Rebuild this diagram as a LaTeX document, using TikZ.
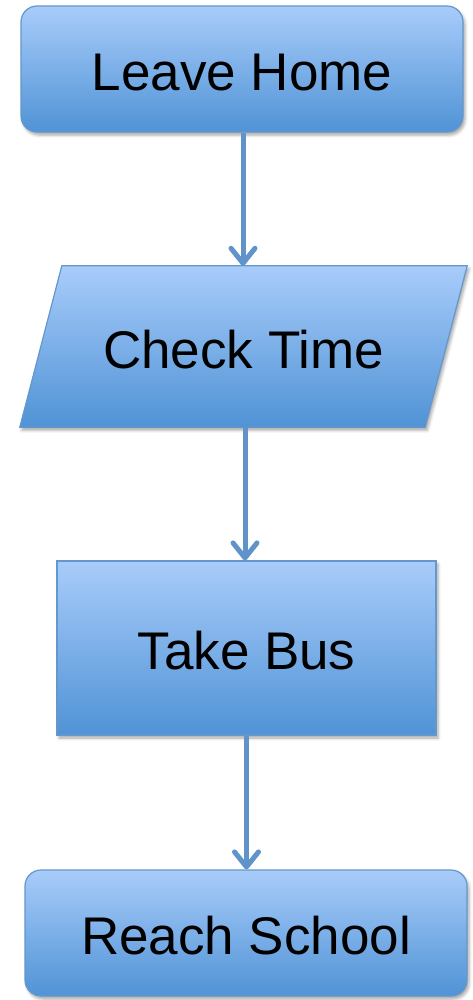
\documentclass[tikz,border=0pt]{standalone}
\usepackage{fontspec}
\setmainfont{Liberation Sans}
\usetikzlibrary{arrows.meta,shadows.blur,backgrounds}
\definecolor{fillTop}{HTML}{A8CCFA}
\definecolor{fillBot}{HTML}{5093D6}
\definecolor{edgeBlue}{HTML}{6497CB}
\definecolor{arrowBlue}{HTML}{5F93CA}
\tikzset{
  boxlook/.style={draw=edgeBlue, line width=1.2pt, top color=fillTop, bottom color=fillBot,
    blur shadow={shadow xshift=2pt, shadow yshift=-3pt, shadow blur radius=3pt, shadow opacity=35}},
  boxtext/.style={font=\fontsize{53}{60}\selectfont, text=black, inner sep=0pt,
    text height=43pt, text depth=0pt},
  roundbox/.style={boxlook, boxtext, rectangle, rounded corners=16pt},
  squarebox/.style={boxlook, boxtext, rectangle},
  flowarrow/.style={draw=arrowBlue, line width=5pt,
    -{Straight Barb[length=15pt, width=24pt, round]}}
}
\begin{document}
\begin{tikzpicture}[x=1pt, y=-1pt]
  \useasboundingbox (0,0) rectangle (472,1000);

  \node[roundbox, minimum width=442pt, minimum height=126pt] (home) at (242,69) {Leave Home};
  \node[boxtext, minimum width=447pt, minimum height=161pt] (time) at (243.5,346.5) {Check Time};
  \node[squarebox, minimum width=379pt, minimum height=174pt] (bus) at (246.5,648) {Take Bus};
  \node[roundbox, minimum width=442pt, minimum height=126pt] (school) at (246,933) {Reach School};

  % slanted input/output box behind the "Check Time" text
  \begin{scope}[on background layer]
    \path[boxlook] ([xshift=42pt]time.north west) -- (time.north east)
      -- ([xshift=-42pt]time.south east) -- (time.south west) -- cycle;
  \end{scope}

  \draw[flowarrow] ([xshift=1pt]home.south) -- ([xshift=1pt]home.south |- time.north);
  \draw[flowarrow] ([xshift=1.5pt]time.south) -- ([xshift=1.5pt]time.south |- bus.north);
  \draw[flowarrow] (bus.south) -- (bus.south |- school.north);
\end{tikzpicture}
\end{document}
